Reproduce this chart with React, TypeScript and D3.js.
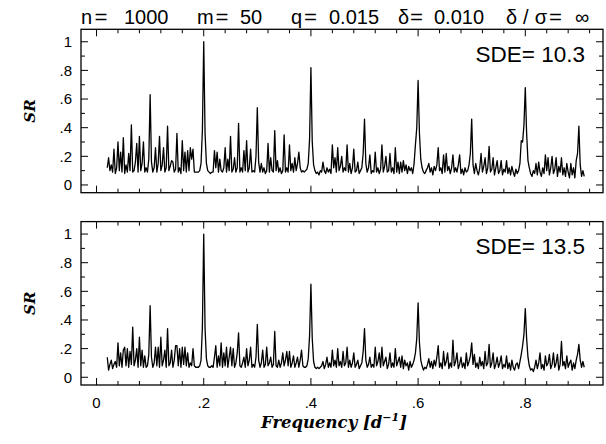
import React from 'react';
import * as d3 from 'd3';

// ---- data ----
const FREQ_START = 0.02;
const FREQ_STEP = 0.0025;

const SR_TOP = [
  0.12,0.19,0.10,0.14,0.09,0.25,0.08,0.12,0.30,0.10,0.23,0.09,0.33,0.08,0.14,0.09,0.22,0.10,0.42,0.09,
  0.10,0.16,0.29,0.09,0.34,0.10,0.15,0.30,0.09,0.12,0.09,0.18,0.63,0.16,0.09,0.12,0.26,0.09,0.15,0.34,
  0.10,0.14,0.26,0.09,0.12,0.41,0.10,0.13,0.17,0.16,0.09,0.11,0.36,0.09,0.12,0.08,0.31,0.10,0.23,0.09,
  0.24,0.10,0.26,0.18,0.25,0.09,0.09,0.09,0.09,0.10,0.15,0.38,1.00,0.36,0.15,0.10,0.09,0.08,0.09,0.09,
  0.24,0.12,0.23,0.09,0.18,0.10,0.09,0.12,0.26,0.09,0.18,0.10,0.34,0.09,0.11,0.19,0.09,0.12,0.43,0.09,
  0.12,0.09,0.24,0.10,0.31,0.09,0.12,0.25,0.09,0.10,0.09,0.20,0.54,0.16,0.09,0.15,0.09,0.12,0.08,0.10,
  0.29,0.09,0.19,0.10,0.09,0.38,0.10,0.17,0.09,0.12,0.08,0.10,0.35,0.09,0.12,0.09,0.28,0.10,0.15,0.09,
  0.19,0.10,0.15,0.23,0.12,0.09,0.10,0.09,0.10,0.11,0.15,0.32,0.82,0.30,0.14,0.10,0.08,0.09,0.07,0.10,
  0.09,0.16,0.10,0.08,0.12,0.09,0.11,0.08,0.28,0.12,0.19,0.09,0.26,0.10,0.13,0.20,0.09,0.12,0.10,0.28,
  0.09,0.15,0.08,0.12,0.25,0.09,0.10,0.16,0.08,0.10,0.12,0.22,0.46,0.15,0.09,0.12,0.21,0.08,0.10,0.09,
  0.23,0.09,0.12,0.08,0.11,0.28,0.09,0.13,0.20,0.09,0.10,0.22,0.09,0.12,0.08,0.26,0.09,0.16,0.08,0.16,
  0.09,0.17,0.10,0.14,0.08,0.13,0.10,0.12,0.08,0.15,0.28,0.40,0.73,0.36,0.18,0.12,0.09,0.08,0.10,0.12,
  0.15,0.09,0.12,0.07,0.13,0.10,0.14,0.26,0.10,0.12,0.08,0.21,0.09,0.22,0.10,0.13,0.08,0.12,0.21,0.09,
  0.12,0.09,0.14,0.21,0.08,0.11,0.07,0.12,0.09,0.10,0.14,0.22,0.46,0.14,0.08,0.15,0.10,0.07,0.12,0.22,
  0.09,0.13,0.19,0.08,0.12,0.27,0.09,0.11,0.19,0.07,0.12,0.17,0.08,0.10,0.17,0.07,0.11,0.09,0.17,0.08,
  0.12,0.07,0.13,0.09,0.06,0.11,0.08,0.10,0.15,0.31,0.30,0.42,0.68,0.36,0.17,0.12,0.08,0.06,0.10,0.08,
  0.15,0.07,0.16,0.09,0.06,0.12,0.08,0.21,0.10,0.19,0.07,0.12,0.20,0.08,0.11,0.19,0.06,0.13,0.09,0.19,
  0.07,0.12,0.06,0.15,0.09,0.05,0.15,0.07,0.12,0.05,0.17,0.22,0.41,0.14,0.06,0.10,0.06,
];

const SR_BOTTOM = [
  0.14,0.05,0.09,0.12,0.06,0.09,0.11,0.07,0.24,0.08,0.17,0.07,0.19,0.21,0.08,0.20,0.07,0.18,0.09,0.35,
  0.08,0.12,0.20,0.07,0.28,0.08,0.19,0.07,0.15,0.07,0.08,0.16,0.50,0.14,0.07,0.10,0.21,0.08,0.21,0.07,
  0.28,0.08,0.12,0.19,0.07,0.34,0.08,0.10,0.19,0.07,0.12,0.22,0.22,0.08,0.20,0.07,0.21,0.09,0.21,0.08,
  0.17,0.07,0.10,0.08,0.20,0.08,0.07,0.07,0.07,0.08,0.12,0.35,1.00,0.34,0.13,0.08,0.07,0.07,0.08,0.07,
  0.14,0.22,0.07,0.15,0.08,0.24,0.07,0.17,0.08,0.21,0.07,0.14,0.21,0.08,0.20,0.07,0.10,0.17,0.31,0.08,
  0.07,0.10,0.14,0.07,0.20,0.08,0.12,0.21,0.07,0.09,0.07,0.14,0.37,0.12,0.07,0.10,0.19,0.07,0.09,0.21,
  0.08,0.10,0.14,0.07,0.09,0.32,0.08,0.07,0.12,0.07,0.10,0.17,0.08,0.12,0.18,0.08,0.18,0.07,0.10,0.15,
  0.07,0.10,0.14,0.07,0.12,0.19,0.08,0.07,0.07,0.08,0.13,0.29,0.65,0.27,0.11,0.07,0.06,0.07,0.06,0.07,
  0.08,0.11,0.06,0.09,0.14,0.07,0.10,0.07,0.19,0.08,0.12,0.07,0.20,0.08,0.11,0.07,0.18,0.08,0.10,0.21,
  0.07,0.12,0.07,0.10,0.17,0.07,0.09,0.12,0.06,0.08,0.10,0.18,0.34,0.12,0.07,0.09,0.14,0.07,0.09,0.07,
  0.21,0.08,0.11,0.17,0.07,0.21,0.08,0.11,0.14,0.06,0.09,0.17,0.07,0.10,0.07,0.20,0.08,0.11,0.14,0.07,
  0.15,0.06,0.12,0.08,0.10,0.05,0.11,0.07,0.09,0.12,0.17,0.27,0.52,0.24,0.12,0.08,0.05,0.07,0.06,0.09,
  0.13,0.07,0.11,0.06,0.12,0.08,0.14,0.22,0.07,0.10,0.06,0.18,0.08,0.11,0.17,0.06,0.10,0.07,0.26,0.08,
  0.11,0.17,0.06,0.09,0.14,0.07,0.10,0.06,0.17,0.08,0.11,0.15,0.24,0.09,0.16,0.07,0.10,0.06,0.14,0.08,
  0.11,0.06,0.18,0.08,0.10,0.23,0.07,0.10,0.17,0.06,0.09,0.14,0.07,0.10,0.15,0.06,0.09,0.07,0.15,0.06,
  0.10,0.05,0.12,0.07,0.05,0.09,0.10,0.06,0.11,0.16,0.22,0.30,0.48,0.27,0.14,0.08,0.05,0.06,0.04,0.07,
  0.12,0.06,0.10,0.17,0.06,0.09,0.05,0.15,0.08,0.10,0.16,0.06,0.09,0.17,0.07,0.10,0.16,0.05,0.09,0.25,
  0.08,0.11,0.06,0.15,0.07,0.10,0.12,0.05,0.10,0.06,0.12,0.16,0.23,0.12,0.07,0.11,0.07,
];

const X_MAJOR = [0, 0.2, 0.4, 0.6, 0.8];
const X_LABELS = ['0', '.2', '.4', '.6', '.8'];
const Y_MAJOR = [0, 0.2, 0.4, 0.6, 0.8, 1];
const Y_LABELS = ['0', '.2', '.4', '.6', '.8', '1'];
const SDE_VALUES = ['10.3', '13.5'];
const TITLE_PARTS = ['n', '=', '1000', 'm', '=', '50', 'q', '=', '0.015', 'δ', '=', '0.010', 'δ/σ', '=', '∞'];

// ---- layout ----
const W = 606, H = 444;
const LEFT = 81, RIGHT = 603;
const PANEL_H = 163.4;
const PANEL_TOPS = [29.3, 221.6];
const TITLE_X = [81, 94.5, 124, 197, 215.5, 240, 291, 304, 329, 398, 410, 434, 506, 549, 575];
const TITLE_LEN: (number | null)[] = [null, 13, null, null, 13, null, null, 13, null, null, 13, null, 41, 13, null];
const SANS = '"Liberation Sans", Arial, Helvetica, sans-serif';
const SERIF = '"DejaVu Serif", "Liberation Serif", serif';

const x = d3.scaleLinear().domain([-0.029, 0.945]).range([LEFT, RIGHT]);

function Panel({ top, data, sde, showX }: { top: number; data: number[]; sde: string; showX: boolean }) {
  const y = d3.scaleLinear().domain([-0.054, 1.087]).range([top + PANEL_H, top]);
  const bottom = top + PANEL_H;
  const pts = data.map((v, i) => [FREQ_START + i * FREQ_STEP, v] as [number, number]);
  const line = d3.line<[number, number]>().x(d => x(d[0])).y(d => y(d[1]));
  const xMinor = d3.range(0, 24).map(i => i * 0.04);
  const yMinor = d3.range(0, 11).map(i => i * 0.1);
  return (
    <g>
      <path d={line(pts) || ''} fill="none" stroke="#000" strokeWidth={1.3} strokeLinejoin="round" />
      <rect x={LEFT} y={top} width={RIGHT - LEFT} height={PANEL_H} fill="none" stroke="#000" strokeWidth={1.3} />
      {xMinor.map((f, i) => {
        const major = i % 5 === 0;
        const len = major ? 7 : 4;
        const px = x(f);
        return (
          <g key={'xt' + i}>
            <line x1={px} x2={px} y1={bottom} y2={bottom - len} stroke="#000" strokeWidth={1} />
            <line x1={px} x2={px} y1={top} y2={top + len} stroke="#000" strokeWidth={1} />
          </g>
        );
      })}
      {yMinor.map((v, i) => {
        const major = i % 2 === 0;
        const len = major ? 7 : 4;
        const py = y(v);
        return (
          <g key={'yt' + i}>
            <line x1={LEFT} x2={LEFT + len} y1={py} y2={py} stroke="#000" strokeWidth={1} />
            <line x1={RIGHT} x2={RIGHT - len} y1={py} y2={py} stroke="#000" strokeWidth={1} />
          </g>
        );
      })}
      {Y_MAJOR.map((v, i) => (
        <text key={'yl' + i} x={72} y={y(v) + 5.3} textAnchor="end" fontFamily={SANS} fontSize={15}>
          {Y_LABELS[i]}
        </text>
      ))}
      {showX && X_MAJOR.map((f, i) => (
        <text key={'xl' + i} x={x(f)} y={bottom + 23} textAnchor="middle" fontFamily={SANS} fontSize={15}>
          {X_LABELS[i]}
        </text>
      ))}
      <text x={585} y={top + 32.4} textAnchor="end" fontFamily={SANS} fontSize={22.5}>
        {'SDE= ' + sde}
      </text>
      <text
        transform={`translate(35, ${top + PANEL_H / 2}) rotate(-90)`}
        textAnchor="middle"
        fontFamily={SERIF}
        fontWeight="bold"
        fontStyle="italic"
        fontSize={15}
      >
        SR
      </text>
    </g>
  );
}

export default function App() {
  return (
    <svg
      width={W}
      height={H}
      viewBox={`0 0 ${W} ${H}`}
      style={{ position: 'absolute', left: 0, top: 0, background: '#fff' }}
    >
      <rect x={0} y={0} width={W} height={H} fill="#fff" />
      {TITLE_PARTS.map((t, i) => (
        <text
          key={'tt' + i}
          x={TITLE_X[i]}
          y={24}
          fontFamily={SANS}
          fontSize={20}
          {...(TITLE_LEN[i]
            ? { textLength: TITLE_LEN[i] as number, lengthAdjust: t === '=' ? 'spacingAndGlyphs' : 'spacing' }
            : {})}
        >
          {t}
        </text>
      ))}
      <Panel top={PANEL_TOPS[0]} data={SR_TOP} sde={SDE_VALUES[0]} showX={false} />
      <Panel top={PANEL_TOPS[1]} data={SR_BOTTOM} sde={SDE_VALUES[1]} showX={true} />
      <text x={334} y={428} textAnchor="middle" fontFamily={SERIF} fontWeight="bold" fontStyle="italic" fontSize={16.5}>
        <tspan>Frequency [</tspan>
        <tspan>d</tspan>
        <tspan dy={-7} fontSize={11}>−1</tspan>
        <tspan dy={7}>]</tspan>
      </text>
    </svg>
  );
}
